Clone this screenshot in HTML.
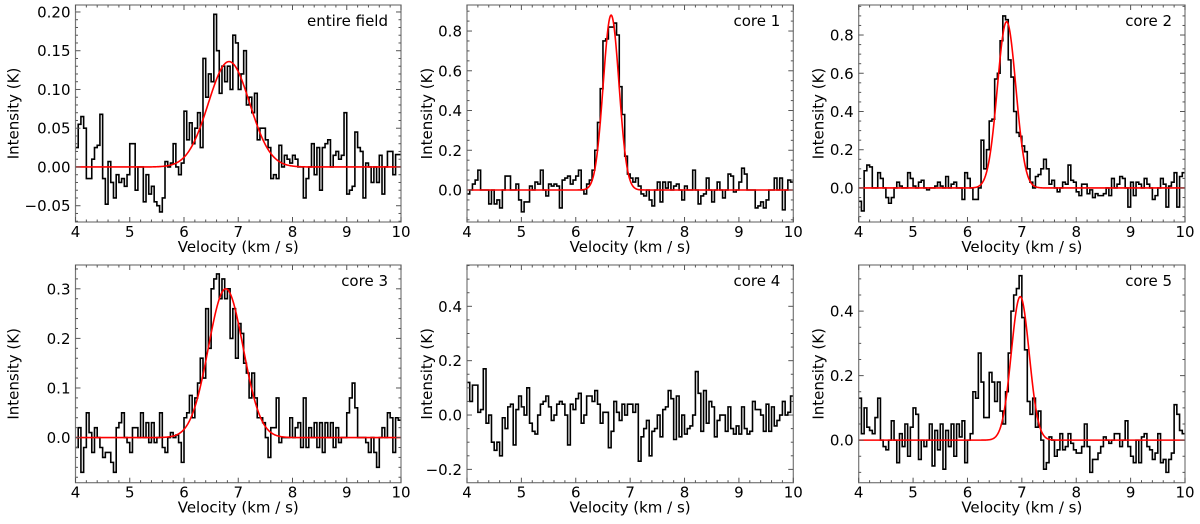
<!DOCTYPE html>
<html><head><meta charset="utf-8"><style>
body{margin:0;background:#fff;}
svg{display:block;font-family:"DejaVu Sans","Liberation Sans",sans-serif;}
</style></head><body>
<svg id="fig" width="1200" height="524" viewBox="0 0 1200 524"></svg>
<script>
const velocityStart = 4.0, binWidth = 0.05;
const titles = ["entire field","core 1","core 2","core 3","core 4","core 5"];
const spec0 = [0.025,0.055,0.065,0.05,-0.015,-0.015,0.01,0.025,0.028,0.068,
-0.015,-0.048,0.007,-0.02,-0.04,-0.01,-0.02,-0.015,-0.025,-0.01,
0.03,0.03,-0.03,0.0,0.0,-0.045,-0.01,-0.035,-0.025,-0.045,
-0.05,-0.058,-0.04,0.007,0.0,0.005,0.03,0.0,-0.01,0.005,
0.072,0.035,0.057,0.03,0.05,0.07,0.025,0.14,0.09,0.12,
0.11,0.197,0.15,0.095,0.13,0.11,0.13,0.10,0.17,0.16,
0.10,0.12,0.15,0.08,0.09,0.07,0.095,0.035,0.05,0.05,
0.035,0.025,-0.015,-0.01,-0.015,0.028,0.0,0.015,0.01,0.005,
0.015,0.01,0.0,0.0,-0.04,-0.015,0.0,0.03,-0.01,0.025,
-0.03,0.025,0.03,0.035,0.0,0.015,0.02,0.01,0.015,0.07,
-0.035,-0.03,-0.025,0.045,0.025,0.02,-0.04,0.005,0.0,-0.02,
0.0,-0.02,0.015,-0.035,0.0,0.02,0.02,-0.01,0.016,0.016];
const spec1 = [-0.02,0.0,0.03,0.05,0.10,0.0,0.0,0.0,-0.07,0.0,
-0.07,-0.05,-0.09,0.0,0.07,0.07,0.0,0.0,0.03,-0.05,
-0.11,-0.06,-0.06,0.02,0.0,0.04,0.03,0.10,0.0,-0.03,
0.03,0.02,0.03,0.02,-0.09,0.05,0.06,0.07,0.03,0.05,
0.07,0.10,0.0,-0.02,0.03,0.05,0.10,0.20,0.34,0.51,
0.75,0.76,0.82,0.82,0.84,0.78,0.52,0.38,0.17,0.08,
0.06,0.04,0.06,0.02,-0.02,-0.03,0.0,-0.05,-0.08,0.0,
0.04,-0.06,0.04,0.01,0.04,0.0,0.02,0.03,0.0,-0.05,
0.02,0.0,0.0,0.1,0.0,-0.07,-0.03,-0.02,0.06,0.0,
-0.06,0.0,0.04,0.0,-0.04,0.0,0.08,0.07,-0.01,0.0,
0.04,0.11,0.08,0.0,0.0,0.0,-0.09,-0.08,-0.06,-0.09,
-0.05,0.0,0.0,0.06,0.0,0.06,-0.1,0.0,0.05,0.04];
const spec2 = [-0.07,-0.12,0.09,0.12,0.11,0.0,0.0,0.08,0.05,0.0,
-0.05,-0.08,-0.05,0.0,0.03,0.01,0.0,0.0,0.08,0.05,
0.01,0.0,0.03,0.04,0.0,-0.01,0.0,0.0,0.01,0.03,
0.01,0.0,0.06,0.0,0.02,0.03,0.0,0.0,-0.06,0.08,
0.05,0.0,-0.06,-0.06,0.0,0.25,0.10,0.20,0.35,0.36,
0.57,0.60,0.77,0.90,0.88,0.67,0.58,0.40,0.29,0.27,
0.22,0.19,0.10,0.03,0.0,0.06,0.07,0.10,0.15,0.10,
0.02,0.04,0.0,-0.02,0.0,0.03,0.02,0.12,0.04,0.03,
-0.02,-0.04,0.02,0.02,-0.03,-0.01,-0.05,-0.03,-0.04,-0.04,
-0.03,0.0,-0.04,0.05,0.0,0.02,0.06,0.05,0.0,-0.1,
0.03,-0.04,0.03,0.02,0.0,0.05,0.02,0.0,-0.06,-0.04,
0.0,0.05,0.02,-0.1,0.01,0.03,0.08,-0.1,0.06,0.08];
const spec3 = [-0.02,0.02,-0.07,-0.02,0.05,0.01,-0.03,0.02,0.0,-0.02,
-0.04,-0.03,-0.03,-0.05,-0.07,0.02,0.03,0.05,0.0,-0.01,
-0.03,0.02,0.02,0.0,0.05,0.0,0.03,-0.01,0.03,-0.01,
0.0,0.05,-0.02,-0.03,0.0,0.01,0.0,0.005,-0.01,-0.05,
0.04,0.05,0.085,0.04,0.08,0.11,0.16,0.12,0.26,0.18,
0.30,0.32,0.33,0.28,0.32,0.28,0.30,0.20,0.26,0.16,
0.23,0.21,0.15,0.13,0.08,0.13,0.08,0.04,0.04,0.03,
0.0,-0.04,0.02,0.02,0.08,-0.01,0.0,0.0,0.0,0.04,
0.0,0.02,0.03,-0.02,0.08,-0.02,0.02,0.0,0.03,-0.02,
0.03,-0.03,0.03,0.0,0.03,-0.02,0.02,-0.01,0.0,0.0,
0.05,0.08,0.11,0.06,0.0,0.0,0.0,-0.01,-0.03,0.0,
-0.03,-0.06,0.0,0.02,0.0,0.05,0.04,-0.03,0.04,0.035];
const spec4 = [0.12,0.05,0.11,0.11,0.01,0.02,0.17,-0.03,0.0,-0.10,
-0.13,-0.10,-0.15,-0.01,-0.05,0.03,0.04,-0.11,0.02,0.07,
0.03,0.0,0.10,-0.03,-0.06,-0.07,0.0,0.04,0.05,0.07,
0.03,-0.02,0.0,0.04,0.05,0.04,0.0,-0.11,0.04,0.02,
0.06,0.08,-0.03,0.0,0.07,0.07,0.05,0.09,0.04,-0.03,
0.01,0.01,-0.12,-0.06,0.05,0.01,-0.02,0.04,0.0,0.04,
0.04,0.01,0.04,-0.17,-0.08,-0.05,-0.02,-0.15,-0.06,-0.05,
0.0,-0.08,0.02,0.03,0.09,0.06,-0.09,0.07,-0.08,0.0,
-0.07,-0.05,-0.04,0.0,0.16,0.08,-0.06,0.09,-0.03,0.05,
0.03,-0.08,-0.02,0.0,0.0,-0.06,0.03,-0.05,-0.07,-0.04,
-0.07,0.03,-0.05,-0.07,-0.06,0.05,0.02,0.02,0.0,-0.06,
0.04,-0.06,0.03,-0.04,-0.02,0.0,0.05,0.0,0.01,0.07];
const spec5 = [0.13,0.02,0.10,0.04,0.03,0.02,0.07,0.13,0.0,-0.02,
-0.03,0.0,0.06,0.0,-0.07,0.02,-0.02,0.05,-0.05,0.04,
0.10,0.08,-0.06,0.0,-0.02,0.0,0.05,-0.08,0.03,-0.03,
0.05,-0.09,0.03,-0.02,0.05,-0.05,0.05,0.01,0.06,-0.07,
0.0,0.02,0.15,0.13,0.27,0.18,0.07,0.07,0.21,0.18,
0.12,0.18,0.09,0.05,0.15,0.27,0.40,0.45,0.47,0.51,
0.38,0.28,0.12,0.08,0.13,0.04,0.09,0.0,-0.09,-0.07,
0.01,0.0,-0.05,-0.03,0.02,-0.03,-0.02,0.02,-0.01,-0.03,
-0.04,-0.04,-0.02,0.05,-0.02,-0.10,-0.06,-0.06,-0.04,-0.02,
0.01,0.0,-0.01,0.0,0.02,0.02,-0.02,0.0,0.06,-0.02,
-0.05,-0.07,0.0,-0.07,0.01,0.02,-0.02,-0.03,-0.06,-0.04,
0.02,-0.07,-0.06,-0.10,-0.06,-0.04,0.11,0.08,0.03,0.02];
const spectra = [spec0,spec1,spec2,spec3,spec4,spec5];
const fitAmp = [0.136,0.88,0.87,0.30,null,0.445];
const fitCenter = [6.83,6.65,6.72,6.77,null,6.97];
const fitSigma = [0.38,0.145,0.17,0.32,null,0.165];
const yTicks = [[-0.05,0,0.05,0.10,0.15,0.20],[0,0.2,0.4,0.6,0.8],[0,0.2,0.4,0.6,0.8],[0,0.1,0.2,0.3],[-0.2,0,0.2,0.4],[0,0.2,0.4]];
const yTickLabels = [["−0.05","0.00","0.05","0.10","0.15","0.20"],["0.0","0.2","0.4","0.6","0.8"],["0.0","0.2","0.4","0.6","0.8"],["0.0","0.1","0.2","0.3"],["−0.2","0.0","0.2","0.4"],["0.0","0.2","0.4"]];
const yMinorStep = [0.01,0.05,0.05,0.02,0.05,0.05];
const yLimits = [[-0.071,0.209],[-0.161,0.931],[-0.178,0.957],[-0.091,0.348],[-0.249,0.552],[-0.132,0.543]];
const xTicks = [4,5,6,7,8,9,10];

const boxes = [[75.5,5,401,222],[467,5,793.3,222],[858.7,5,1185,222],[75.5,265,401,482.7],[467,265,793.3,482.7],[858.7,265,1185,482.7]];
const NS="http://www.w3.org/2000/svg";
const svg=document.getElementById('fig');
function mk(tag,attrs,parent){const e=document.createElementNS(NS,tag);for(const k in attrs)e.setAttribute(k,attrs[k]);(parent||svg).appendChild(e);return e;}

for(let p=0;p<6;p++){
  const [L,T,R,B]=boxes[p];
  const [y0,y1]=yLimits[p];
  const sx=v=>L+(v-4)/(10-4)*(R-L);
  const sy=v=>B-(v-y0)/(y1-y0)*(B-T);
  const g=mk('g',{});
  
  
  const clipId='clip'+p;
  const cp=mk('clipPath',{id:clipId},g);mk('rect',{x:L,y:T,width:R-L,height:B-T},cp);
  const data=spectra[p];
  let d='';
  for(let i=0;i<data.length;i++){
    const xa=sx(velocityStart+i*binWidth), xb=sx(velocityStart+(i+1)*binWidth), y=sy(data[i]);
    d+=(i===0?'M':'L')+xa.toFixed(2)+','+y.toFixed(2)+' L'+xb.toFixed(2)+','+y.toFixed(2)+' ';
  }
  const sp=mk('path',{d:d,fill:'none',stroke:'#000','stroke-width':1.6,'clip-path':'url(#'+clipId+')'},g);
  
  
  if(fitAmp[p]!==null){
    let fd='';
    for(let k=0;k<=600;k++){const v=4+k*0.01;const y=fitAmp[p]*Math.exp(-((v-fitCenter[p])**2)/(2*fitSigma[p]**2));fd+=(k?'L':'M')+sx(v).toFixed(2)+','+sy(y).toFixed(2);}
    const fl=mk('path',{d:fd,fill:'none',stroke:'#ff0000','stroke-width':1.6,'clip-path':'url(#'+clipId+')'},g);
    
    
  }
  const fr=mk('rect',{x:L,y:T,width:R-L,height:B-T,fill:'none',stroke:'#777','stroke-width':1.2},g);
  
  
  for(let v=4;v<=10.0001;v+=0.2){
    const x=sx(v);const major=Math.abs(v-Math.round(v))<1e-6;const len=major?5:2.5;
    mk('line',{x1:x,y1:B,x2:x,y2:B-len,stroke:'#555','stroke-width':1},g);
    mk('line',{x1:x,y1:T,x2:x,y2:T+len,stroke:'#555','stroke-width':1},g);
  }
  xTicks.forEach(v=>{
    const t=mk('text',{x:sx(v),y:B+15,'font-size':15,'text-anchor':'middle',fill:'#000'},g);t.textContent=String(v);
    
    
  });
  const ms=yMinorStep[p];
  for(let v=Math.ceil(y0/ms)*ms;v<=y1;v+=ms){
    const y=sy(v);
    const major=yTicks[p].some(t=>Math.abs(t-v)<ms*0.01);const len=major?5:2.5;
    mk('line',{x1:L,y1:y,x2:L+len,y2:y,stroke:'#555','stroke-width':1},g);
    mk('line',{x1:R,y1:y,x2:R-len,y2:y,stroke:'#555','stroke-width':1},g);
  }
  yTicks[p].forEach((v,i)=>{
    const t=mk('text',{x:L-5,y:sy(v)+5.5,'font-size':15,'text-anchor':'end',fill:'#000'},g);t.textContent=yTickLabels[p][i];
    
    
  });
  const xl=mk('text',{x:(L+R)/2,y:B+30,'font-size':15,'text-anchor':'middle',fill:'#000'},g);xl.textContent='Velocity (km / s)';
  
  
  const lblX = (p%3===0)? L-57 : L-35;
  const yl=mk('text',{x:lblX,y:(T+B)/2,'font-size':15,'text-anchor':'middle',fill:'#000',transform:'rotate(-90 '+lblX+' '+((T+B)/2)+')'},g);yl.textContent='Intensity (K)';
  
  
  const tt=mk('text',{x:R-13,y:T+21,'font-size':15,'text-anchor':'end',fill:'#000'},g);tt.textContent=titles[p];
  
  
}
</script>
</body></html>
